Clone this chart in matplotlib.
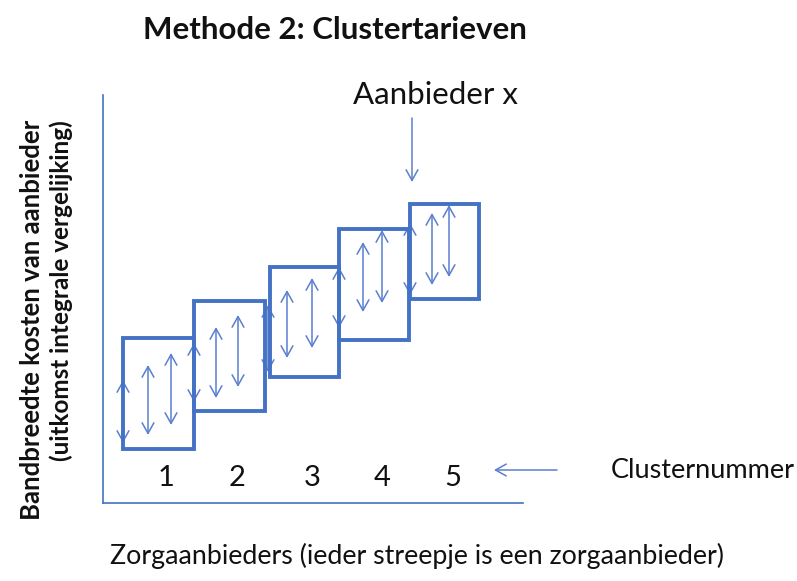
import matplotlib.pyplot as plt
from matplotlib.patches import Rectangle

# Clusters: aanbieder-bereik (x) en kostenbandbreedte (y)
cluster_nrs = [1, 2, 3, 4, 5]
cluster_x0 = [2.0, 9.1, 16.7, 23.6, 30.7]
cluster_x1 = [9.1, 16.2, 23.6, 30.6, 37.6]
cluster_lo = [5.4, 9.2, 12.6, 16.3, 20.4]
cluster_hi = [16.5, 20.2, 23.6, 27.4, 29.9]

# Zorgaanbieders (streepjes): positie, onder- en bovengrens
aanb_x = [2.0, 4.5, 6.8, 9.1, 11.3, 13.5, 16.5, 18.4, 20.9, 23.6, 26.0, 27.9, 30.7, 32.9, 34.6]
aanb_lo = [6.0, 6.8, 7.8, 10.1, 10.5, 11.6, 13.1, 14.5, 15.5, 17.5, 19.1, 20.0, 20.8, 21.8, 22.6]
aanb_hi = [12.3, 13.8, 15.0, 16.0, 17.6, 18.8, 19.8, 21.3, 22.5, 23.6, 26.1, 27.3, 28.0, 29.0, 29.8]

aanbieder_x = 30.9

box_kleur = '#4472c4'
pijl_kleur = '#5b7fcf'
font = 'Lato'

fig = plt.figure(figsize=(7.97, 5.81), dpi=100)
ax = fig.add_axes([103 / 797, 78 / 581, 420 / 797, 408 / 581])
ax.set_xlim(0, 42)
ax.set_ylim(0, 40.8)

# streepjes (dubbele pijlen)
for x, lo, hi in zip(aanb_x, aanb_lo, aanb_hi):
    ax.annotate('', xy=(x, hi), xytext=(x, lo),
                arrowprops=dict(arrowstyle='<->,head_length=0.45,head_width=0.25',
                                color=pijl_kleur, lw=1.1, shrinkA=0, shrinkB=0,
                                mutation_scale=17), zorder=2)

# clusterblokken
for nr, x0, x1, lo, hi in zip(cluster_nrs, cluster_x0, cluster_x1, cluster_lo, cluster_hi):
    ax.add_patch(Rectangle((x0, lo), x1 - x0, hi - lo, fill=False,
                           edgecolor=box_kleur, lw=2.8, zorder=3))
    ax.text((x0 + x1) / 2 + 0.8, 2.5, str(nr), ha='center', va='center',
            fontsize=21, family=font, color='#111111')

# cluster-pijl en label
ax.annotate('', xy=(39.1, 3.3), xytext=(45.4, 3.3), annotation_clip=False,
            arrowprops=dict(arrowstyle='->,head_length=0.45,head_width=0.25',
                            color=pijl_kleur, lw=1.1, shrinkA=0, shrinkB=0,
                            mutation_scale=17))
ax.text(50.8, 3.2, 'Clusternummer', ha='left', va='center', fontsize=19.5,
        family=font, color='#111111', clip_on=False)

# aanbieder x
ax.annotate('', xy=(aanbieder_x, 32.1), xytext=(aanbieder_x, 38.5), annotation_clip=False,
            arrowprops=dict(arrowstyle='->,head_length=0.45,head_width=0.25',
                            color=pijl_kleur, lw=1.1, shrinkA=0, shrinkB=0,
                            mutation_scale=17))
fig.text(436 / 797, 1 - 95 / 581, 'Aanbieder x', ha='center', va='center',
         fontsize=22.5, family=font, color='#111111')

for s in ['top', 'right']:
    ax.spines[s].set_visible(False)
for s in ['left', 'bottom']:
    ax.spines[s].set_color(box_kleur)
    ax.spines[s].set_linewidth(1.2)
ax.set_xticks([])
ax.set_yticks([])

fig.text(335 / 797, 1 - 30 / 581, 'Methode 2: Clustertarieven', ha='center', va='center',
         fontsize=22.5, family=font, weight='bold', color='#111111')
fig.text(417 / 797, 1 - 556 / 581, 'Zorgaanbieders (ieder streepje is een zorgaanbieder)',
         ha='center', va='center', fontsize=19.3, family=font, color='#111111')
fig.text(32 / 797, 1 - 120 / 581, 'Bandbreedte kosten van aanbieder', rotation=90,
         ha='center', va='top', fontsize=18.5, family=font, weight='bold', color='#111111')
fig.text(61 / 797, 1 - 120 / 581, '(uitkomst integrale vergelijking)', rotation=90,
         ha='center', va='top', fontsize=17.5, family=font, weight='bold', color='#111111')

fig.savefig('out.png', dpi=100)
